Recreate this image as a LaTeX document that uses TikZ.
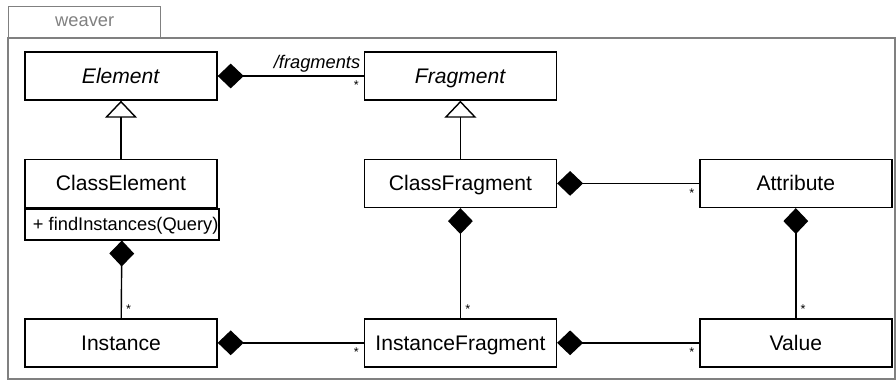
\documentclass[tikz,border=0pt]{standalone}
\usepackage{fontspec}
\setmainfont{Liberation Sans}
\usetikzlibrary{arrows.meta, positioning}

\begin{document}
\begin{tikzpicture}[line join=miter, font=\fontsize{15}{18}\selectfont,
  cls/.style={draw, line width=1pt, fill=white, inner sep=0pt, minimum width=4.8cm, minimum height=1.2cm, text height=10.7pt, text depth=0pt},
  ops/.style={draw, line width=1pt, inner xsep=0.2cm, inner ysep=0pt, minimum height=0.775cm, text height=9.3pt, text depth=0pt, font=\fontsize{13}{15}\selectfont},
  comp/.style={line width=1pt, {Diamond[length=0.65cm, width=0.62cm]}-},
  gen/.style={line width=1pt, -{Triangle[open, length=0.425cm, width=0.8cm]}},
  mult/.style={font=\fontsize{9}{10}\selectfont, inner sep=3pt},
  role/.style={font=\itshape\fontsize{13}{15}\selectfont, inner sep=2pt}]
\useasboundingbox (-3.025,1.9) rectangle (19.375,-7.625);
\draw[gray, line width=1pt] (-2.825,0.95) rectangle (19.35,-7.575);
\node[draw=gray, line width=1pt, text=gray, font=\fontsize{13}{15}\selectfont, minimum width=3.8cm, minimum height=0.775cm, anchor=south west] (tab) at (-2.825,0.95) {weaver};
\node[cls] (element) {\textit{Element}};
\node[cls, right=3.65cm of element] (fragment) {\textit{Fragment}};
\node[cls, below=1.45cm of element] (classelement) {ClassElement};
\node[ops, anchor=north west] (findops) at (classelement.south west) {\makebox[4.45cm][l]{+ findInstances(Query)}};
\node[cls, below=1.45cm of fragment] (classfragment) {ClassFragment};
\node[cls, right=3.55cm of classfragment] (attribute) {Attribute};
\node[cls, below=2.75cm of classelement] (instance) {Instance};
\node[cls, below=2.75cm of classfragment] (instancefragment) {InstanceFragment};
\node[cls, below=2.75cm of attribute] (value) {Value};
\draw[comp] (element) -- node[role, pos=1, above left]{/fragments} node[mult, pos=1, below left]{*} (fragment);
\draw[gen] (classelement) -- (element);
\draw[gen] (classfragment) -- (fragment);
\draw[comp] (classfragment) -- node[mult, pos=1, below left]{*} (attribute);
\draw[comp] (findops) -- node[mult, pos=1, above right]{*} (instance);
\draw[comp] (classfragment) -- node[mult, pos=1, above right]{*} (instancefragment);
\draw[comp] (attribute) -- node[mult, pos=1, above right]{*} (value);
\draw[comp] (instance) -- node[mult, pos=1, below left]{*} (instancefragment);
\draw[comp] (instancefragment) -- node[mult, pos=1, below left]{*} (value);
\end{tikzpicture}
\end{document}
